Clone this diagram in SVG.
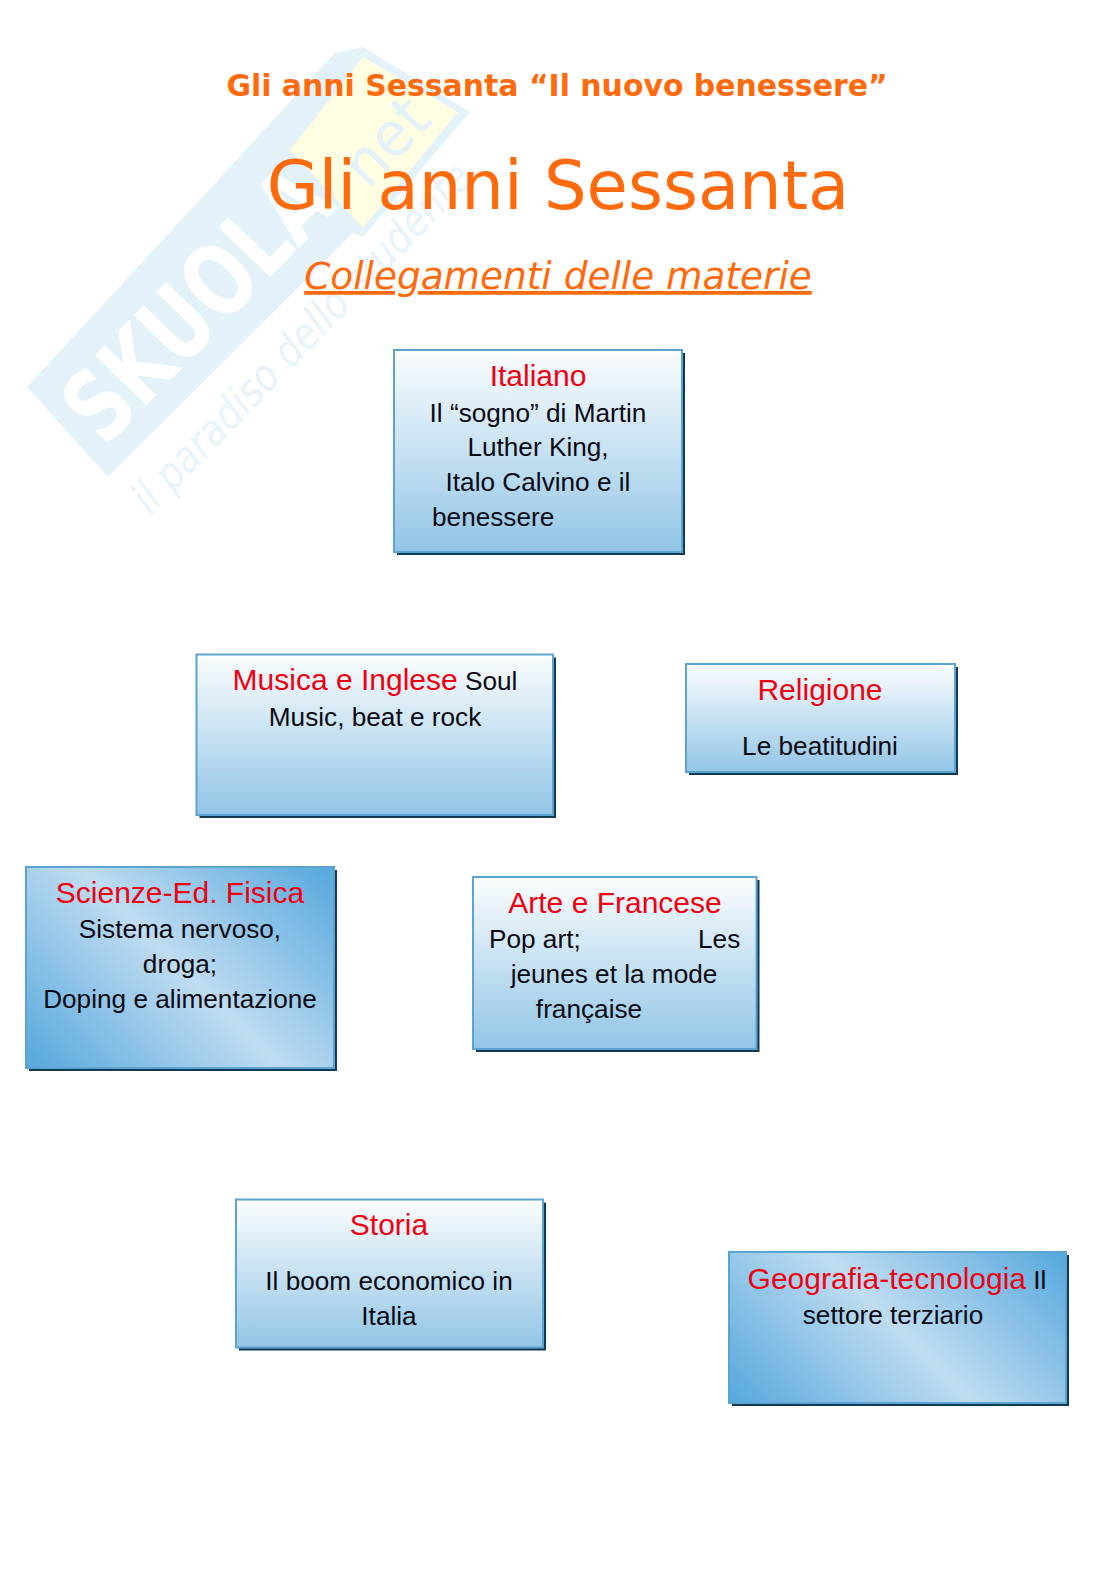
<svg xmlns="http://www.w3.org/2000/svg" width="1116" height="1579" viewBox="0 0 1116 1579">
<style>
text{font-family:"Liberation Sans",Arial,sans-serif;font-size:26.200px;fill:#0a0a14;text-anchor:middle}
.h,tspan.h{fill:#ee0012;font-size:30px}
.s{text-anchor:start}
.t1,.t2,.t3{font-family:"DejaVu Sans",sans-serif;fill:#ff6a0d}
.t1{font-size:29.900px;font-weight:bold}
.t2{font-size:67.200px}
.t3{font-size:37.400px;font-style:italic;text-decoration:underline}
.w{font-family:"DejaVu Sans",sans-serif;text-anchor:start}
.box{stroke:#5ba3d0;stroke-width:2}
.shadow{fill:#123a52}
.v{fill:url(#vg)}
</style>
<defs>
<linearGradient id="vg" x1="0" y1="0" x2="0" y2="1"><stop offset="0" stop-color="#fbfdfe"/><stop offset="1" stop-color="#92c5e6"/></linearGradient>
<linearGradient id="dg1" gradientUnits="userSpaceOnUse" x1="53" y1="1094.500" x2="307" y2="840.500"><stop offset="0" stop-color="#55a8dd"/><stop offset="0.5" stop-color="#c0dcf1"/><stop offset="1" stop-color="#55a8dd"/></linearGradient>
<linearGradient id="dg2" gradientUnits="userSpaceOnUse" x1="775.500" y1="1449.500" x2="1019.500" y2="1205.500"><stop offset="0" stop-color="#55a8dd"/><stop offset="0.5" stop-color="#c0dcf1"/><stop offset="1" stop-color="#55a8dd"/></linearGradient>
</defs>
<rect width="1116" height="1579" fill="#fff"/>
<g id="watermark">
<polygon points="27,387 335,53 363,47 470,112 363,237 353,233 108,477" fill="#e3f1f9"/>
<polygon points="363,57 458,112 363,228 290,150" fill="#fffde2"/>
<text class="w" transform="translate(105,448) rotate(-46)" style="font-weight:bold;font-size:98px;fill:#fff" textLength="335" lengthAdjust="spacingAndGlyphs">SKUOLA</text>
<text class="w" transform="translate(368,190) rotate(-46)" style="font-size:62px;fill:#e3f1f9" textLength="95" lengthAdjust="spacingAndGlyphs">net</text>
<text class="w" transform="translate(150,516) rotate(-46)" style="font-style:italic;font-size:44px;fill:#e8f3fa" textLength="467" lengthAdjust="spacingAndGlyphs">il paradiso dello studente</text>
</g>
<g id="titles">
<text class="t1" x="557" y="95.500">Gli anni Sessanta “Il nuovo benessere”</text>
<text class="t2" x="558" y="209">Gli anni Sessanta</text>
<text class="t3" x="558" y="289">Collegamenti delle materie</text>
</g>
<g id="connectors"></g>
<g id="italiano">
<rect class="shadow" x="397" y="353" width="288" height="202"/>
<rect class="box v" x="394" y="350" width="288" height="202"/>
<text class="h" x="538" y="386">Italiano</text>
<text x="538" y="422">Il “sogno” di Martin</text>
<text x="538" y="456">Luther King,</text>
<text x="538" y="491">Italo Calvino e il</text>
<text class="s" x="432" y="526">benessere</text>
</g>
<g id="musica">
<rect class="shadow" x="199.500" y="657.500" width="356.500" height="160.500"/>
<rect class="box v" x="196.500" y="654.500" width="356.500" height="160.500"/>
<text x="375" y="690"><tspan class="h">Musica e Inglese</tspan> Soul</text>
<text x="375" y="726">Music, beat e rock</text>
</g>
<g id="religione">
<rect class="shadow" x="689" y="667" width="269" height="108"/>
<rect class="box v" x="686" y="664" width="269" height="108"/>
<text class="h" x="820" y="700">Religione</text>
<text x="820" y="755">Le beatitudini</text>
</g>
<g id="scienze">
<rect class="shadow" x="29" y="870" width="308" height="201"/>
<rect class="box" fill="url(#dg1)" x="26" y="867" width="308" height="201"/>
<text class="h" x="180" y="903">Scienze-Ed. Fisica</text>
<text x="180" y="938">Sistema nervoso,</text>
<text x="180" y="973">droga;</text>
<text x="180" y="1008">Doping e alimentazione</text>
</g>
<g id="arte">
<rect class="shadow" x="476" y="880" width="283.500" height="172"/>
<rect class="box v" x="473" y="877" width="283.500" height="172"/>
<text class="h" x="615" y="913">Arte e Francese</text>
<text class="s" x="489" y="948">Pop art;</text>
<text class="s" x="698" y="948">Les</text>
<text x="614" y="983">jeunes et la mode</text>
<text x="589" y="1018">française</text>
</g>
<g id="storia">
<rect class="shadow" x="239" y="1202.500" width="307" height="148"/>
<rect class="box v" x="236" y="1199.500" width="307" height="148"/>
<text class="h" x="389" y="1235">Storia</text>
<text x="389" y="1290">Il boom economico in</text>
<text x="389" y="1325">Italia</text>
</g>
<g id="geografia">
<rect class="shadow" x="732" y="1255" width="337" height="151"/>
<rect class="box" fill="url(#dg2)" x="729" y="1252" width="337" height="151"/>
<text x="897" y="1289"><tspan class="h">Geografia-tecnologia</tspan> Il</text>
<text x="893" y="1324">settore terziario</text>
</g>
</svg>
